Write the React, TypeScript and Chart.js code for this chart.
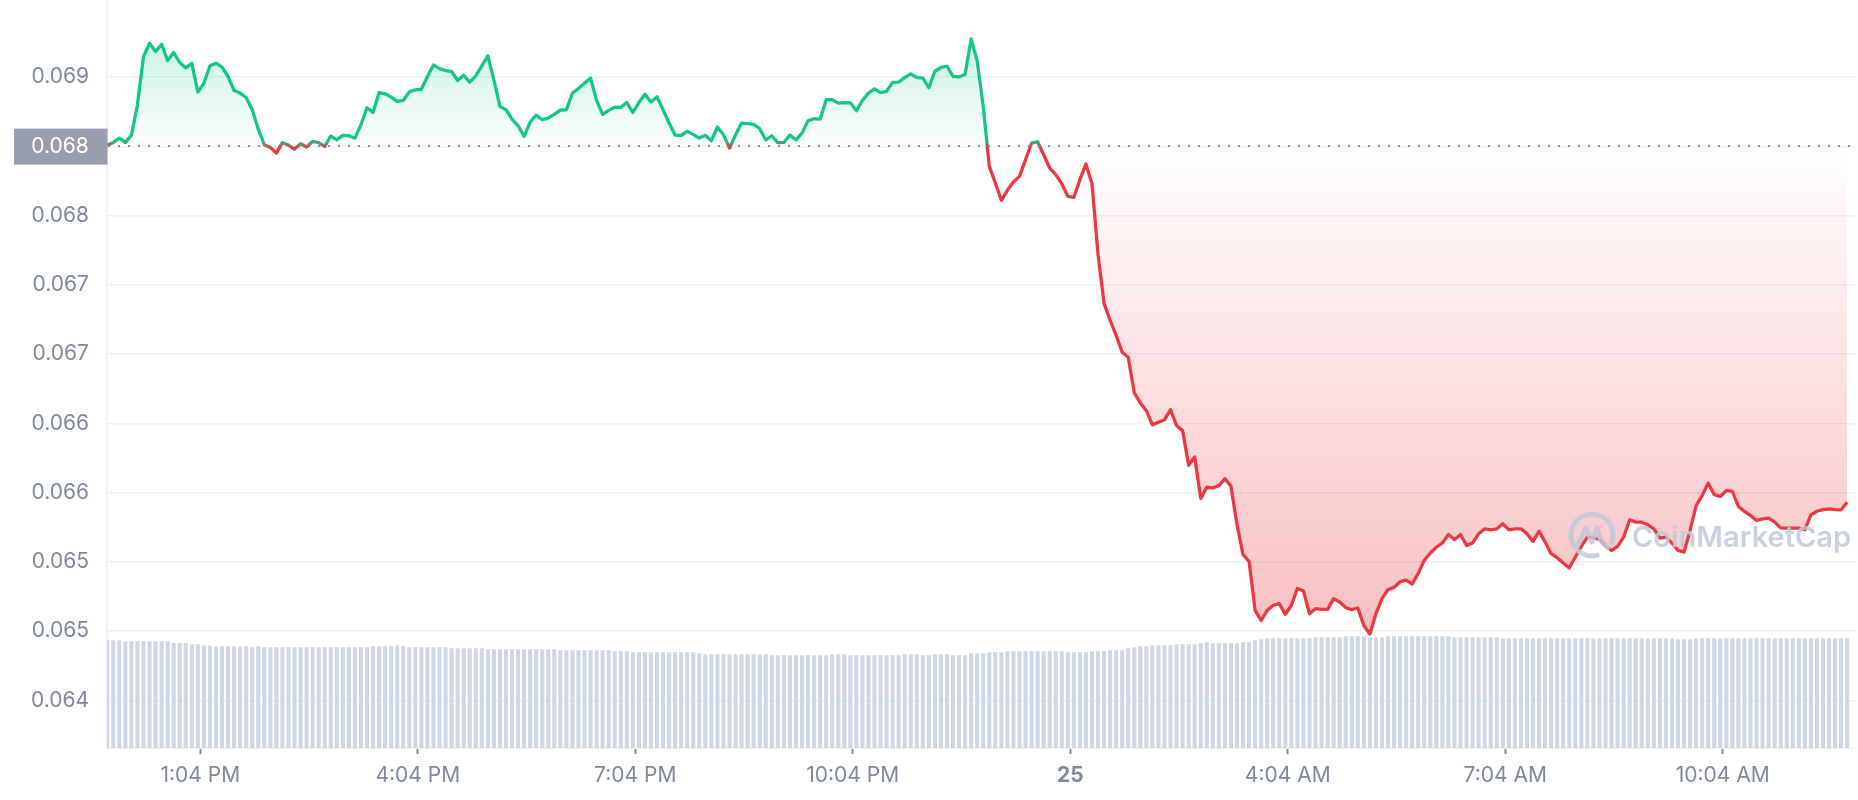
import React, { useEffect, useRef } from 'react';
import { Chart, registerables } from 'chart.js';

Chart.register(...registerables);

// time axis: minutes after midnight of the 24th
const START_MIN = 707; // 11:47 AM
const STEP_MIN = 5;
const X_MIN = 706.8;
const X_MAX = 2154.6;
const X_TICKS = [784, 964, 1144, 1324, 1504, 1684, 1864, 2044];
const X_LABELS = ['1:04 PM', '4:04 PM', '7:04 PM', '10:04 PM', '25', '4:04 AM', '7:04 AM', '10:04 AM'];

const Y_TICKS = [0.0645, 0.065, 0.0655, 0.066, 0.0665, 0.067, 0.0675, 0.068, 0.0685, 0.069];
const Y_MIN = 0.0641563;
const Y_MAX = 0.0695454;
const REF_PRICE = 0.068506;

const PRICE = [
  0.068508, 0.068529, 0.06856, 0.068529, 0.06858, 0.068801, 0.069149, 0.069245, 0.069185, 0.069238,
  0.06912, 0.069178, 0.069106, 0.069067, 0.069101, 0.068892, 0.068957, 0.069082, 0.069101, 0.069072,
  0.069005, 0.068904, 0.068885, 0.068853, 0.068765, 0.068625, 0.068512, 0.068493, 0.068452, 0.068527,
  0.06851, 0.068481, 0.06852, 0.068496, 0.068536, 0.068527, 0.0685, 0.068575, 0.068548, 0.06858,
  0.068577, 0.06856, 0.068657, 0.068779, 0.068745, 0.068889, 0.06888, 0.068856, 0.068825, 0.068832,
  0.068894, 0.068909, 0.068913, 0.069005, 0.069089, 0.069062, 0.069048, 0.069041, 0.068976, 0.069014,
  0.068964, 0.06901, 0.069082, 0.069154, 0.068981, 0.068789, 0.068765, 0.068697, 0.068649, 0.068572,
  0.068676, 0.068726, 0.068693, 0.068705, 0.068731, 0.068762, 0.068765, 0.068885, 0.068918, 0.068957,
  0.068993, 0.068832, 0.068731, 0.06876, 0.068784, 0.068781, 0.068817, 0.068745, 0.068817, 0.068877,
  0.06882, 0.068858, 0.068765, 0.068669, 0.068582, 0.06858, 0.068608, 0.068587, 0.06856, 0.06858,
  0.068541, 0.06864, 0.068584, 0.068488, 0.068584, 0.068669, 0.068664, 0.068659, 0.068628, 0.068548,
  0.068577, 0.068527, 0.068529, 0.068582, 0.068548, 0.068596, 0.068685, 0.0687, 0.068697, 0.068837,
  0.068837, 0.068813, 0.068817, 0.068815, 0.068757, 0.068832, 0.068885, 0.068916, 0.068889, 0.068897,
  0.068962, 0.068964, 0.068998, 0.069024, 0.068998, 0.068993, 0.068925, 0.069043, 0.06907, 0.069079,
  0.069005, 0.069002, 0.069022, 0.069276, 0.069118, 0.068789, 0.068356, 0.068236, 0.068111, 0.068183,
  0.068243, 0.068284, 0.068404, 0.068524, 0.068534, 0.06844, 0.068344, 0.068296, 0.068231, 0.06814,
  0.068133, 0.06826, 0.068373, 0.068231, 0.06772, 0.067367, 0.067245, 0.067135, 0.067014, 0.066977,
  0.066721, 0.066648, 0.066592, 0.06649, 0.066509, 0.066526, 0.066599, 0.066485, 0.066448, 0.066198,
  0.066258, 0.065959, 0.066039, 0.066034, 0.066051, 0.0661, 0.066047, 0.065771, 0.065552, 0.065503,
  0.06515, 0.065077, 0.06515, 0.065187, 0.065199, 0.065121, 0.065187, 0.065308, 0.065291, 0.065126,
  0.065162, 0.065157, 0.065157, 0.065235, 0.065211, 0.06517, 0.065155, 0.065167, 0.065041, 0.06498,
  0.065126, 0.065235, 0.065301, 0.065316, 0.065357, 0.065369, 0.06534, 0.065418, 0.065511, 0.065564,
  0.065606, 0.065637, 0.065698, 0.065662, 0.065698, 0.065618, 0.065637, 0.065703, 0.065739, 0.065732,
  0.065739, 0.065775, 0.065732, 0.065739, 0.065739, 0.065703, 0.065648, 0.065722, 0.065643, 0.065559,
  0.06553, 0.065492, 0.065456, 0.065535, 0.065612, 0.065679, 0.065674, 0.065662, 0.065614, 0.065583,
  0.065612, 0.065679, 0.065804, 0.065787, 0.065787, 0.065768, 0.065739, 0.065672, 0.065679, 0.065636,
  0.065583, 0.065571, 0.065727, 0.065907, 0.065979, 0.066068, 0.065986, 0.065972, 0.066015, 0.06601,
  0.0659, 0.065864, 0.065835, 0.065799, 0.065811, 0.065816, 0.065787, 0.065746, 0.065744, 0.065744,
  0.065744, 0.065732, 0.06584, 0.065866, 0.065878, 0.065883, 0.065878, 0.065876, 0.065931,
];

// volume, millions USD
const VOLUME = [
  27, 27, 27,
  26.75, 26.75, 26.75, 26.75, 26.75, 26.75, 26.75, 26.75,
  26.3, 26.3, 26.3,
  26, 26,
  25.7, 25.7,
  25.5, 25.5, 25.5, 25.5, 25.5, 25.5,
  25.25, 25.5,
  25.25, 25.25, 25.25, 25.25, 25.25, 25.25, 25.25, 25.25, 25.25, 25.25, 25.25, 25.25, 25.25, 25.25, 25.25, 25.25, 25.25, 25.25,
  25.5, 25.5, 25.5, 25.5,
  25.75, 25.5,
  25.25, 25.25, 25.25, 25.25, 25.25, 25.25, 25.25,
  25, 25, 25, 25, 25, 25,
  24.75, 24.75, 24.75, 24.75, 24.75, 24.75, 24.75, 24.75, 24.75, 24.75, 24.75, 24.75,
  24.5, 24.5, 24.5, 24.5, 24.5, 24.5, 24.5, 24.5, 24.5,
  24.25, 24.25, 24.25,
  24, 24, 24, 24, 24, 24, 24, 24, 24, 24, 24,
  23.75,
  23.5, 23.5, 23.5, 23.5, 23.5, 23.5, 23.5, 23.5, 23.5, 23.5, 23.5,
  23.25, 23.25, 23.25, 23.25, 23.25, 23.25, 23.25, 23.25, 23.25, 23.25,
  23.5, 23.5, 23.5,
  23.25, 23.25, 23.25, 23.25, 23.25, 23.25, 23.25, 23.25, 23.25,
  23.5, 23.5, 23.5,
  23.25, 23.25,
  23.5, 23.5, 23.5,
  23.25, 23.25, 23.25,
  23.75, 23.75, 23.75,
  24, 24, 24,
  24.25, 24.25, 24.25, 24.25, 24.25, 24.25, 24.25, 24.25, 24.25, 24.25,
  24, 24, 24, 24,
  24.25, 24.25, 24.25,
  24.5, 24.5, 24.5,
  25, 25.25, 25.5, 25.5,
  25.75, 25.75, 25.75, 25.75,
  26, 26, 26, 26,
  26.25, 26.5,
  26.25, 26.25, 26.25, 26.25, 26.25,
  26.5, 26.5,
  27, 27.25,
  27.5, 27.5, 27.5, 27.5, 27.5, 27.5, 27.5, 27.5,
  27.75, 27.75, 27.75, 27.75, 27.75,
  28, 28, 28, 28,
  27.75, 27.75, 27.75,
  28, 28, 28, 28, 28, 28, 28, 28, 28, 28, 28,
  27.75, 27.75, 27.75, 27.75, 27.75, 27.75, 27.75, 27.75,
  27.5, 27.5, 27.5, 27.5, 27.5, 27.5, 27.5, 27.5, 27.5, 27.5,
  27.5, 27.5, 27.5, 27.5, 27.5, 27.5, 27.5, 27.5, 27.5, 27.5,
  27.5, 27.5, 27.5, 27.5, 27.5, 27.5, 27.5, 27.5, 27.5,
  27.25, 27.25, 27.25,
  27.5, 27.5, 27.5, 27.5, 27.5, 27.5, 27.5, 27.5, 27.5, 27.5,
  27.5, 27.5, 27.5, 27.5, 27.5, 27.5, 27.5, 27.5, 27.5, 27.5,
  27.5, 27.5, 27.5, 27.5, 27.5, 27.5,
];
const VOL_MAX = 187;

const GREEN = '#16C784';
const RED = '#EA3943';
const LABEL_COLOR = '#808A9D';
const GRID_COLOR = '#EFF2F5';
const FONT = 'Inter, "Noto Sans", sans-serif';

const truncLabel = (v: number) => (Math.floor(v * 1000 + 1e-6) / 1000).toFixed(3);

const overlayPlugin = {
  id: 'overlay',
  beforeDatasetsDraw(chart: any) {
    const { ctx, chartArea, scales } = chart;
    const y = Math.round(scales.y.getPixelForValue(REF_PRICE));
    ctx.save();
    ctx.strokeStyle = '#8C93A5';
    ctx.lineWidth = 2;
    ctx.setLineDash([2, 8]);
    ctx.beginPath();
    ctx.moveTo(chartArea.left + 1, y);
    ctx.lineTo(chartArea.right, y);
    ctx.stroke();
    ctx.restore();
  },
  afterDatasetsDraw(chart: any) {
    const { ctx } = chart;
    // CoinMarketCap watermark
    ctx.save();
    const col = 'rgba(192,201,219,0.85)';
    ctx.strokeStyle = col;
    ctx.fillStyle = col;
    ctx.lineWidth = 5;
    ctx.lineCap = 'round';
    ctx.lineJoin = 'round';
    const cx = 1592, cy = 535, r = 21;
    ctx.beginPath();
    ctx.arc(cx, cy, r, 0.42 * Math.PI, 2.12 * Math.PI);
    ctx.stroke();
    ctx.beginPath();
    ctx.moveTo(cx - 14, cy + 10);
    ctx.lineTo(cx - 6, cy - 7);
    ctx.lineTo(cx + 0, cy + 7);
    ctx.lineTo(cx + 5, cy - 7);
    ctx.lineTo(cx + 9, cy + 6);
    ctx.lineTo(cx + 16, cy + 12);
    ctx.stroke();
    ctx.font = `600 29px ${FONT}`;
    ctx.textAlign = 'left';
    ctx.textBaseline = 'alphabetic';
    ctx.fillText('CoinMarketCap', 1632, 547);
    ctx.restore();
  },
  afterDraw(chart: any) {
    const { ctx, scales } = chart;
    const y = scales.y.getPixelForValue(REF_PRICE);
    ctx.save();
    ctx.fillStyle = '#989EAD';
    ctx.fillRect(14, y - 17, 93.5, 36);
    ctx.fillStyle = '#FFFFFF';
    ctx.font = `21px ${FONT}`;
    ctx.textAlign = 'center';
    ctx.textBaseline = 'middle';
    ctx.fillText(truncLabel(REF_PRICE), 60, y + 1);
    ctx.restore();
  },
};

export default function App() {
  const canvasRef = useRef<HTMLCanvasElement | null>(null);

  useEffect(() => {
    const canvas = canvasRef.current;
    if (!canvas) return;
    Chart.defaults.font.family = FONT;

    const chart = new Chart(canvas, {
      type: 'line',
      data: {
        datasets: [
          {
            type: 'line',
            label: 'Price',
            data: PRICE.map((v, i) => ({ x: START_MIN + i * STEP_MIN, y: v })),
            xAxisID: 'x',
            yAxisID: 'y',
            borderColor: GREEN,
            borderWidth: 3.3,
            pointRadius: 0,
            tension: 0,
            borderJoinStyle: 'round',
            fill: { value: REF_PRICE, above: 'rgba(22,199,132,0.15)', below: 'rgba(234,57,67,0.15)' },
            order: 0,
          } as any,
          {
            type: 'bar',
            label: 'Volume',
            data: VOLUME.map((v, i) => ({ x: START_MIN + i * STEP_MIN, y: v })),
            xAxisID: 'x',
            yAxisID: 'yv',
            backgroundColor: '#CFD6E4',
            borderWidth: 0,
            barPercentage: 0.68,
            categoryPercentage: 1,
            order: 1,
          } as any,
        ],
      },
      options: {
        animation: false,
        responsive: false,
        events: [],
        layout: { padding: 0 },
        plugins: {
          legend: { display: false },
          tooltip: { enabled: false },
          title: { display: false },
        },
        scales: {
          x: {
            type: 'linear',
            position: 'bottom',
            min: X_MIN,
            max: X_MAX,
            offset: false,
            afterBuildTicks: (s: any) => {
              s.ticks = X_TICKS.map((v) => ({ value: v }));
            },
            afterFit: (s: any) => {
              s.height = 52;
              s.paddingLeft = 0;
              s.paddingRight = 0;
            },
            ticks: {
              autoSkip: false,
              maxRotation: 0,
              minRotation: 0,
              padding: 9,
              color: LABEL_COLOR,
              font: (c: any) => ({ family: FONT, size: 21, weight: c.index === 4 ? 'bold' : 'normal' }),
              callback: (_v: any, i: number) => X_LABELS[i],
            },
            grid: {
              display: true,
              offset: false,
              drawOnChartArea: false,
              drawTicks: true,
              tickLength: 6,
              tickColor: LABEL_COLOR,
              tickWidth: 2,
            },
            border: { display: true, color: GRID_COLOR, width: 2 },
          },
          y: {
            type: 'linear',
            position: 'left',
            min: Y_MIN,
            max: Y_MAX,
            afterBuildTicks: (s: any) => {
              s.ticks = Y_TICKS.map((v) => ({ value: v }));
            },
            afterFit: (s: any) => {
              s.width = 107;
              s.paddingTop = 0;
              s.paddingBottom = 0;
            },
            ticks: {
              padding: 18,
              color: LABEL_COLOR,
              font: { family: FONT, size: 21 },
              callback: (v: any) => truncLabel(Number(v)),
            },
            grid: { color: GRID_COLOR, lineWidth: 1.5, drawTicks: false },
            border: { display: true, color: GRID_COLOR, width: 2 },
          },
          yv: {
            type: 'linear',
            display: false,
            min: 0,
            max: VOL_MAX,
          },
        },
      } as any,
      plugins: [overlayPlugin],
    } as any);

    // gradients depend on the laid-out scales
    const { ctx, chartArea, scales } = chart as any;
    const top = chartArea.top;
    const bottom = chartArea.bottom;
    const refY = scales.y.getPixelForValue(REF_PRICE);
    const lowY = scales.y.getPixelForValue(Math.min(...PRICE));
    const f = (refY - top) / (bottom - top);
    const lineGrad = ctx.createLinearGradient(0, top, 0, bottom);
    lineGrad.addColorStop(0, GREEN);
    lineGrad.addColorStop(Math.max(0, f - 0.005), GREEN);
    lineGrad.addColorStop(Math.min(1, f + 0.005), RED);
    lineGrad.addColorStop(1, RED);
    const above = ctx.createLinearGradient(0, top, 0, refY);
    above.addColorStop(0, 'rgba(22,199,132,0.30)');
    above.addColorStop(1, 'rgba(22,199,132,0.02)');
    const below = ctx.createLinearGradient(0, refY, 0, lowY);
    below.addColorStop(0, 'rgba(234,57,67,0.0)');
    below.addColorStop(1, 'rgba(234,57,67,0.32)');
    const ds: any = chart.data.datasets[0];
    ds.borderColor = lineGrad;
    ds.fill = { value: REF_PRICE, above, below };
    chart.update();

    return () => chart.destroy();
  }, []);

  return (
    <div style={{ position: 'fixed', left: 0, top: 0, width: 1858, height: 800, background: '#ffffff' }}>
      <canvas ref={canvasRef} width={1858} height={800} style={{ display: 'block' }} />
    </div>
  );
}
